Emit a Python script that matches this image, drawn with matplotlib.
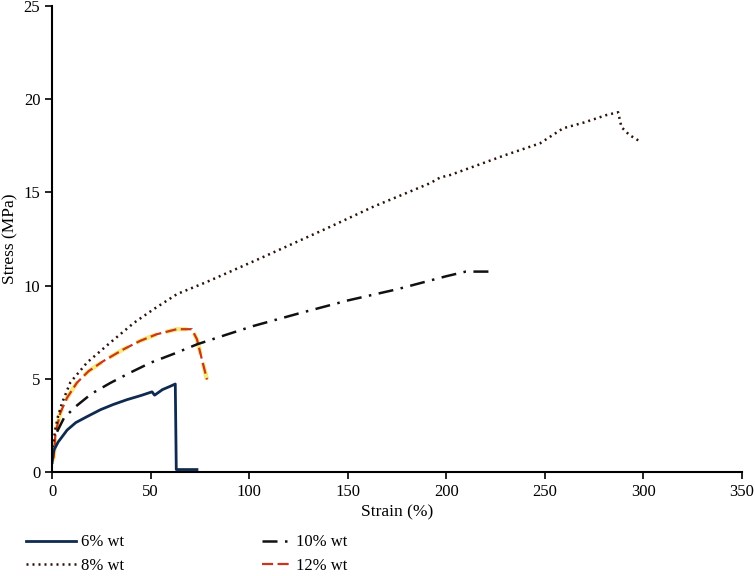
import matplotlib.pyplot as plt
import numpy as np

plt.rcParams['font.family'] = ['Liberation Serif', 'DejaVu Serif']

# 6% wt
s6_x = [0.0, 0.3, 1.0, 3.0, 7.6, 12.0, 17.7, 24.5, 31.0, 38.0, 45.0, 50.7, 52.0, 56.0, 60.0, 62.5, 62.8, 63.0, 73.5]
s6_y = [0.5, 0.9, 1.2, 1.6, 2.25, 2.65, 2.97, 3.34, 3.62, 3.88, 4.1, 4.3, 4.12, 4.42, 4.6, 4.72, 2.0, 0.13, 0.13]

# 8% wt
s8_x = [0.0, 0.8, 1.6, 3.0, 5.0, 9.2, 17.7, 29.6, 41.5, 51.6, 63.5, 78.6, 105.6, 139.4, 163.0, 191.8,
        197.0, 202.0, 213.8, 230.0, 247.6, 259.4, 270.0, 281.4, 287.3, 289.0, 293.0, 298.0]
s8_y = [1.0, 1.7, 2.3, 3.0, 3.7, 4.8, 5.87, 6.95, 8.0, 8.74, 9.55, 10.2, 11.46, 13.07, 14.23, 15.49,
        15.8, 15.93, 16.38, 17.0, 17.63, 18.44, 18.75, 19.15, 19.3, 18.5, 18.08, 17.76]

# 10% wt
s10_x = [2.5, 6.0, 11.8, 20.0, 29.6, 40.0, 49.9, 62.0, 73.6, 88.0, 102.4, 125.0, 150.0, 175.0, 200.0, 210.0, 222.0]
s10_y = [2.16, 2.9, 3.5, 4.2, 4.78, 5.35, 5.86, 6.35, 6.85, 7.35, 7.84, 8.5, 9.2, 9.8, 10.5, 10.75, 10.75]

# 12% wt
s12_x = [0.0, 0.8, 1.7, 4.1, 7.5, 12.5, 18.5, 26.0, 36.2, 44.6, 53.1, 63.3, 70.9, 73.5, 76.0, 78.6]
s12_y = [0.6, 0.8, 2.07, 3.16, 3.97, 4.78, 5.41, 5.95, 6.58, 7.03, 7.39, 7.66, 7.66, 7.12, 6.04, 4.96]

fig = plt.figure(figsize=(7.56, 5.76), dpi=100)
ax = fig.add_axes([0.069, 0.1806, 0.912, 0.809])

ax.plot(s12_x, s12_y, color='#f2e04a', lw=3.2, ls=(0, (5, 2)), alpha=0.7)
l12, = ax.plot(s12_x, s12_y, color='#c8361c', lw=1.6, ls=(0, (5, 2)))
l8, = ax.plot(s8_x, s8_y, color='#2a1208', lw=1.8, ls=(0, (0.8, 1.6)))
l10, = ax.plot(s10_x, s10_y, color='#111111', lw=1.8, ls=(0, (6, 3, 1, 3)))
l6, = ax.plot(s6_x, s6_y, color='#0f2a4f', lw=2.0)

ax.set_xlim(0, 350)
ax.set_ylim(0, 25)
ax.set_xticks(np.arange(0, 351, 50))
ax.set_yticks(np.arange(0, 26, 5))
ax.spines['top'].set_visible(False)
ax.spines['right'].set_visible(False)
ax.spines['left'].set_linewidth(1.5)
ax.spines['bottom'].set_linewidth(1.5)
ax.tick_params(direction='out', length=5, width=1.2, labelsize=12)
ax.set_xlabel('Strain (%)', fontsize=12.5, labelpad=3)
ax.set_ylabel('Stress (MPa)', fontsize=12.5)

fig.legend([l6, l8], ['6% wt', '8% wt'], loc='center left',
           bbox_to_anchor=(0.024, 0.038), frameon=False, fontsize=12,
           handlelength=3.0, labelspacing=0.45, borderpad=0, handletextpad=0.3)
fig.legend([l10, l12], ['10% wt', '12% wt'], loc='center left',
           bbox_to_anchor=(0.335, 0.038), frameon=False, fontsize=12,
           handlelength=1.9, labelspacing=0.45, borderpad=0, handletextpad=0.15)

fig.savefig('out.png', dpi=100)
